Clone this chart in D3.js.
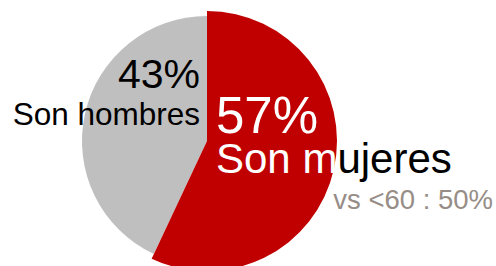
<!DOCTYPE html>
<html><head><meta charset="utf-8">
<script src="https://cdn.jsdelivr.net/npm/d3@7"></script>
<style>html,body{margin:0;padding:0;background:#fff;}svg{display:block;}</style>
</head><body>
<svg id="c" width="496" height="266"></svg>
<script>
const categories = ["Son mujeres", "Son hombres"];
const shares = [57, 43];
const pctLabels = ["57%", "43%"];
const compareLabel = "vs <60 : 50%";

const svg = d3.select("#c");
const cx = 207, cy = 141;
const colors = ["#c00000", "#bfbfbf"];
const radii = [130, 125];

const pie = d3.pie().sort(null).value(d => d)(shares);
const arcs = pie.map((p, i) => d3.arc().innerRadius(0).outerRadius(radii[i])(p));

const g = svg.append("g").attr("transform", `translate(${cx},${cy})`);
[1, 0].forEach(i => g.append("path").attr("d", arcs[i]).attr("fill", colors[i]));

function insideRed(x, y) {
  const dx = x - cx, dy = y - cy;
  if (Math.hypot(dx, dy) > radii[0]) return false;
  let a = Math.atan2(dx, -dy); if (a < 0) a += 2 * Math.PI;
  return a >= pie[0].startAngle && a <= pie[0].endAngle;
}

const font = "'Liberation Sans', Arial, sans-serif";
const labels = [
  {t: pctLabels[1], x: 200, y: 88, s: 41, a: "end"},
  {t: categories[1], x: 200, y: 125, s: 31.5, a: "end"},
  {t: pctLabels[0], x: 216, y: 133, s: 51, a: "start"},
  {t: categories[0], x: 216, y: 173, s: 42, a: "start"}
];
labels.forEach(d => {
  const txt = svg.append("text").attr("x", d.x).attr("y", d.y)
    .attr("text-anchor", d.a).attr("font-family", font).attr("font-size", d.s)
    .attr("fill", "#000").text(d.t);
  const node = txt.node();
  const fills = [];
  for (let i = 0; i < d.t.length; i++) {
    const e = node.getExtentOfChar(i);
    fills.push(insideRed(e.x + e.width / 2, d.y - d.s * 0.3) ? "#fff" : "#000");
  }
  txt.text(null);
  let start = 0;
  for (let i = 1; i <= d.t.length; i++) {
    if (i === d.t.length || fills[i] !== fills[start]) {
      txt.append("tspan").attr("fill", fills[start]).text(d.t.slice(start, i));
      start = i;
    }
  }
});

svg.append("text").attr("x", 493).attr("y", 209).attr("text-anchor", "end")
  .attr("font-family", font).attr("font-size", 27.5).attr("fill", "#978d87")
  .text(compareLabel);
</script>
</body></html>
